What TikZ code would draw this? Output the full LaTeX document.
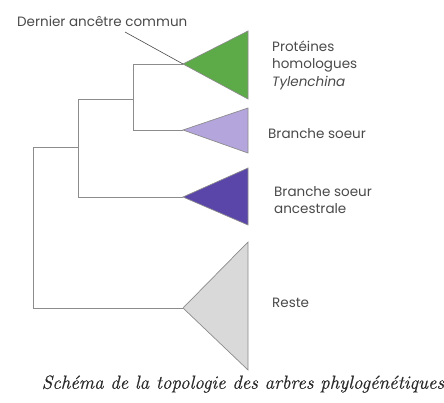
\documentclass[tikz,border=0pt]{standalone}
\usepackage{fontspec}
\setmainfont{Poppins}
\newfontfamily\capfont[FakeBold=0.6]{Latin Modern Roman}
\definecolor{cgreen}{HTML}{5DAA48}
\definecolor{clav}{HTML}{B4A5DD}
\definecolor{cdark}{HTML}{5A45A8}
\definecolor{cgrey}{HTML}{D9D9D9}
\definecolor{cline}{HTML}{8C8C8C}
\definecolor{ctext}{HTML}{4A4A4A}
\definecolor{ccap}{HTML}{2A2A2A}
\tikzset{
  branch/.style={draw=cline, line width=0.8pt},
  clade/.style={draw=cline, line width=0.7pt, line join=miter},
  lbl/.style={anchor=west, align=left, text=ctext, font=\fontsize{13.5}{17.5}\selectfont, inner sep=0pt},
}
\begin{document}
\begin{tikzpicture}[x=1pt, y=-1pt]
\useasboundingbox (0,0) rectangle (444,403);
% apexes
\coordinate (a1) at (183,64);
\coordinate (a2) at (183,130);
\coordinate (a3) at (183,197);
\coordinate (a4) at (183,308);
% internal nodes
\coordinate (n1) at (133,64);
\coordinate (n1b) at (133,130);
\coordinate (n2) at (78,99);
\coordinate (n2b) at (78,197);
\coordinate (n3) at (33,147);
\coordinate (n3b) at (33,308);
% clades
\fill[cgreen] (a1) -- (248,31) -- (248,99) -- cycle;
\draw[clade] (a1) -- (248,31) -- (248,99) -- cycle;
\fill[clav] (a2) -- (248,108) -- (248,153) -- cycle;
\draw[clade] (a2) -- (248,108) -- (248,153) -- cycle;
\fill[cdark] (a3) -- (248,168) -- (248,225) -- cycle;
\draw[clade] (a3) -- (248,168) -- (248,225) -- cycle;
\fill[cgrey] (a4) -- (248,242) -- (248,370) -- cycle;
\draw[clade] (a4) -- (248,242) -- (248,370) -- cycle;
% tree branches
\draw[branch] (a1) -- (n1) -- (n1b) -- (a2);
\draw[branch] (n1 |- n2) -- (n2) -- (n2b) -- (a3);
\draw[branch] (n2 |- n3) -- (n3) -- (n3b) -- (a4);
% labels
\node[lbl] (dac) at (17,21) {Dernier ancêtre commun};
\coordinate (dacend) at (125,32);
\draw[line width=0.6pt, draw=ctext] (dacend) -- (a1);
\node[lbl] (l1) at (272,65) {Protéines\\homologues\\\textit{Tylenchina}};
\node[lbl] (l2) at (268,134) {Branche soeur};
\node[lbl] (l3) at (274,200) {Branche soeur\\ancestrale};
\node[lbl] (l4) at (272,303) {Reste};
\node[anchor=center, inner sep=0pt, text=ccap, font=\capfont\itshape\fontsize{19}{22}\selectfont] (cap) at (243,384) {Schéma de la topologie des arbres phylogénétiques};
\end{tikzpicture}
\end{document}
